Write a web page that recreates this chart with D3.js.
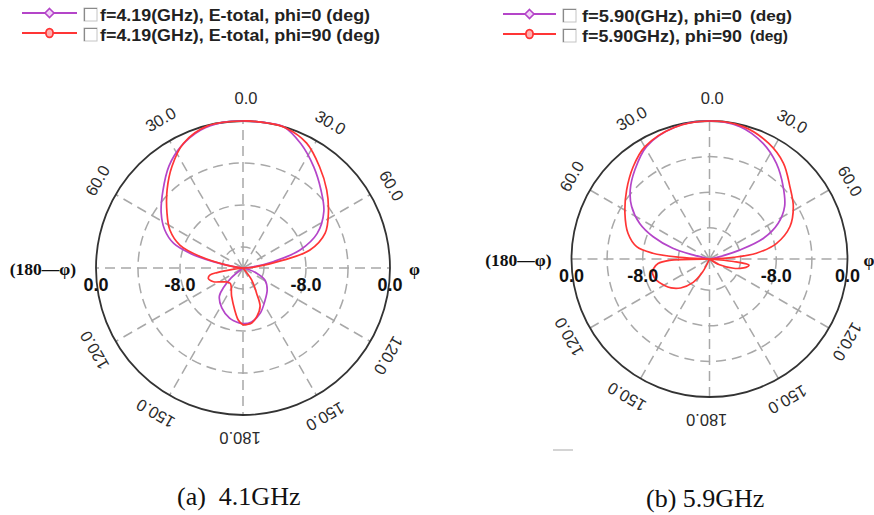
<!DOCTYPE html>
<html>
<head>
<meta charset="utf-8">
<script src="https://cdn.jsdelivr.net/npm/d3@7"></script>
<style>
  html, body { margin: 0; padding: 0; background: #ffffff; }
  svg { display: block; }
</style>
</head>
<body>
<svg id="chart" width="874" height="515"></svg>
<script>
// ---------- data ----------
// Angular tick marks (theta, degrees) and their printed labels
const angleTicks = [0, 30, 60, 120, 150, 180, -30, -60, -120, -150];
const angleTickLabels = ["0.0", "30.0", "60.0", "120.0", "150.0", "180.0", "30.0", "60.0", "120.0", "150.0"];
// Dashed radial rings (dB) and the printed radial labels
const ringTicks = [-4, -8, -12];
const radialLabelValues = [0, -8];
const radialLabelText = ["0.0", "-8.0"];

// (a) 4.19 GHz, phi = 0 deg : theta (deg) and normalised gain (dB)
const theta419phi0 = [-180, -170, -165, -152, -140, -135, -130, -125, -115, -100, -90, -84, -82, -78, -74.5, -70.5, -64, -56, -46, -36, -27, -17, -8, 0, 8, 16, 25, 35, 45, 55, 65, 72.5, 78, 83, 86, 90, 100, 104, 111, 119, 132, 147, 159, 171];
const gain419phi0  = [-8.7, -8.9, -9.05, -9.7, -10.5, -11.4, -12.5, -14.5, -20, -20, -18, -13.8, -13.1, -11.1, -8.8, -7.0, -5.7, -4.6, -3.4, -2.0, -1.0, -0.25, 0, 0, 0, 0, -0.95, -2.25, -3.5, -4.6, -6.2, -8.3, -11.0, -13.0, -14.2, -18, -16, -13.5, -12.6, -11.6, -10.9, -10.2, -9.4, -8.8];

// (a) 4.19 GHz, phi = 90 deg
const theta419phi90 = [-180, -175, -169, -158, -140, -125, -115, -107, -102, -100, -98, -95, -90, -85, -80, -75, -70, -62.5, -54, -44, -35, -25.6, -14, 0, 10, 17, 27, 37, 47, 57, 67, 75, 79, 84.5, 88, 95, 120, 135, 144, 151.6, 156, 164, 171, 176];
const gain419phi90  = [-8.6, -9.0, -9.9, -11.1, -12.1, -11.7, -10.9, -10.55, -10.8, -11.5, -13, -15, -16, -14, -12.4, -9.8, -7.6, -6.15, -5.05, -3.6, -2.2, -0.85, -0.05, 0, 0, -0.05, -0.65, -1.9, -3.1, -4.3, -5.5, -7.4, -10.1, -12.7, -14.5, -18, -20, -15, -12.6, -11.3, -10.0, -9.2, -8.7, -8.6];

// (b) 5.90 GHz, phi = 0 deg
const theta590phi0 = [-180, -135, -90, -80, -76, -73.6, -68.4, -63, -56, -49, -40, -29, -15, 0, 13, 25, 35, 45.5, 55, 62.5, 69, 73.5, 77.5, 82, 90, 135];
const gain590phi0  = [-25, -25, -25, -16.5, -13.6, -11.2, -8.7, -6.7, -4.95, -3.7, -2.45, -1.0, -0.2, 0, -0.25, -1.2, -2.4, -3.9, -5.2, -6.8, -9.0, -11.9, -14.3, -18, -25, -25];

// (b) 5.90 GHz, phi = 90 deg
const theta590phi90 = [-180, -160, -152, -145, -135, -127, -120, -112, -105, -100, -95, -92, -90, -88, -86.7, -84.2, -80.4, -72.5, -61.6, -50.3, -39.6, -30, -15, 0, 14, 27, 37.6, 48, 58, 68, 77, 83, 86, 89, 92, 96, 99, 103, 107, 111, 120, 130, 155];
const gain590phi90  = [-25, -17, -13.8, -12.3, -10.9, -10.1, -9.6, -9.1, -8.9, -9.1, -9.7, -11, -17, -15, -12.2, -9.1, -7.2, -5.9, -4.7, -3.4, -2.05, -0.95, -0.2, 0, -0.15, -0.9, -1.9, -3.35, -4.4, -5.75, -7.8, -10.2, -12.8, -16, -16, -12.8, -11, -11.3, -11.9, -12.6, -14.2, -20, -25];

// Legend entries and captions
const legendLeft  = ["f=4.19(GHz), E-total, phi=0 (deg)", "f=4.19(GHz), E-total, phi=90 (deg)"];
const legendRight = ["f=5.90(GHz), phi=0", "f=5.90GHz), phi=90"];
const legendRightUnit = "(deg)";
const captions = ["(a)  4.1GHz", "(b) 5.9GHz"];

// ---------- drawing ----------
const svg = d3.select("#chart");
const PURPLE = "#b445c9";
const RED = "#ff3535";
const SANS = "'Liberation Sans', Arial, sans-serif";
const SERIF = "'Liberation Serif', 'Times New Roman', serif";
const rad = d => d * Math.PI / 180;

function series(thetas, gains) {
  return thetas.map((t, i) => ({ t, g: gains[i] }));
}

function polarPlot(cfg) {
  const g = svg.append("g").attr("transform", `translate(${cfg.cx},${cfg.cy})`);
  const r = d3.scaleLinear().domain([cfg.min, 0]).range([0, cfg.R]).clamp(true);

  // dashed rings
  g.selectAll("circle.ring").data(ringTicks).join("circle")
    .attr("class", "ring").attr("r", d => r(d))
    .attr("fill", "none").attr("stroke", "#a8a8a8")
    .attr("stroke-width", 1.5).attr("stroke-dasharray", "10,6");

  // dashed spokes every 30 degrees
  g.selectAll("line.spoke").data(d3.range(0, 360, 30)).join("line")
    .attr("class", "spoke")
    .attr("x1", 0).attr("y1", 0)
    .attr("x2", d => r(0) * Math.sin(rad(d)))
    .attr("y2", d => -r(0) * Math.cos(rad(d)))
    .attr("stroke", "#a8a8a8").attr("stroke-width", 1.5)
    .attr("stroke-dasharray", "10,6");

  // outer boundary
  g.append("circle").attr("r", r(0))
    .attr("fill", "none").attr("stroke", "#333").attr("stroke-width", 1.8);

  // pattern traces
  const line = d3.lineRadial()
    .angle(d => rad(d.t))
    .radius(d => r(d.g))
    .curve(d3.curveCatmullRomClosed.alpha(0.5));
  cfg.traces.forEach(tr => {
    g.append("path").datum(tr.data)
      .attr("d", line)
      .attr("fill", "none").attr("stroke", tr.color)
      .attr("stroke-width", 1.7).attr("stroke-linejoin", "round");
  });

  // angular labels, rotated tangentially
  angleTicks.forEach((a, i) => {
    const rr = r(0) + 23;
    g.append("text")
      .attr("transform", `translate(${rr * Math.sin(rad(a + 1))},${-rr * Math.cos(rad(a + 1))}) rotate(${a})`)
      .attr("text-anchor", "middle").attr("dominant-baseline", "central")
      .attr("font-family", SANS)
      .attr("font-size", 16.5).attr("fill", "#2b2b2b")
      .text(angleTickLabels[i]);
  });

  // radial labels on both sides of the horizontal axis
  radialLabelValues.forEach((v, i) => {
    [-1, 1].forEach(s => {
      g.append("text")
        .attr("x", s * r(v)).attr("y", 17)
        .attr("text-anchor", "middle").attr("dominant-baseline", "central")
        .attr("font-family", SANS)
        .attr("font-weight", "bold").attr("font-size", 18).attr("fill", "#111")
        .text(radialLabelText[i]);
    });
  });

  // axis direction markers
  g.append("text")
    .attr("x", -r(0) - 20).attr("y", 1)
    .attr("text-anchor", "end").attr("dominant-baseline", "central")
    .attr("font-family", SERIF)
    .attr("font-weight", "bold").attr("font-size", 17.5).attr("fill", "#111")
    .text("(180\u2014\u03c6)");
  g.append("text")
    .attr("x", r(0) + cfg.phiGap).attr("y", 1)
    .attr("text-anchor", "start").attr("dominant-baseline", "central")
    .attr("font-family", SERIF)
    .attr("font-weight", "bold").attr("font-size", 17.5).attr("fill", "#111")
    .text("\u03c6");
}

polarPlot({
  cx: 243, cy: 268, R: 147, min: -14, phiGap: 19,
  traces: [
    { data: series(theta419phi0, gain419phi0), color: PURPLE },
    { data: series(theta419phi90, gain419phi90), color: RED }
  ]
});
polarPlot({
  cx: 709.5, cy: 259, R: 138, min: -15.5, phiGap: 16,
  traces: [
    { data: series(theta590phi0, gain590phi0), color: PURPLE },
    { data: series(theta590phi90, gain590phi90), color: RED }
  ]
});

// ---------- legends ----------
function legendRow(o) {
  const g = svg.append("g");
  const y = o.y;
  g.append("line").attr("x1", o.x0).attr("x2", o.x1).attr("y1", y).attr("y2", y)
    .attr("stroke", o.color).attr("stroke-width", 1.8);
  const mx = (o.x0 + o.x1) / 2;
  if (o.marker === "diamond") {
    g.append("path")
      .attr("d", `M${mx},${y - 4.5}L${mx + 4.5},${y}L${mx},${y + 4.5}L${mx - 4.5},${y}Z`)
      .attr("fill", "#f3d6f7").attr("stroke", o.color).attr("stroke-width", 1.6);
  } else {
    g.append("ellipse").attr("cx", mx).attr("cy", y).attr("rx", 3.6).attr("ry", 4.4)
      .attr("fill", "#ffb0b0").attr("stroke", o.color).attr("stroke-width", 1.8);
  }
  // checkbox
  g.append("rect").attr("x", o.boxX).attr("y", y - 5).attr("width", 13).attr("height", 13)
    .attr("fill", "#fff").attr("stroke", "#c4c4c4").attr("stroke-width", 1);
  g.append("path").attr("d", `M${o.boxX + 0.5},${y + 8}V${y - 4.5}H${o.boxX + 13}`)
    .attr("fill", "none").attr("stroke", "#8a8a8a").attr("stroke-width", 1.2);
  g.append("text").attr("x", o.textX).attr("y", y + 2.5)
    .attr("dominant-baseline", "central")
    .attr("font-family", SANS)
    .attr("font-weight", "bold").attr("font-size", 16).attr("fill", "#222")
    .attr("textLength", o.width).attr("lengthAdjust", "spacingAndGlyphs")
    .text(o.label);
  if (o.unit) {
    g.append("text").attr("x", o.unitX).attr("y", y + 1.5)
      .attr("dominant-baseline", "central")
      .attr("font-family", SANS)
      .attr("font-weight", "bold").attr("font-size", 14.5).attr("fill", "#222")
      .attr("textLength", o.unitW).attr("lengthAdjust", "spacingAndGlyphs")
      .text(o.unit);
  }
}

legendRow({ x0: 22, x1: 77, y: 13, color: PURPLE, marker: "diamond", boxX: 84, textX: 100, label: legendLeft[0], width: 270 });
legendRow({ x0: 22, x1: 77, y: 33, color: RED, marker: "circle", boxX: 84, textX: 100, label: legendLeft[1], width: 280 });
legendRow({ x0: 503, x1: 556, y: 14, color: PURPLE, marker: "diamond", boxX: 563, textX: 582, label: legendRight[0], width: 160, unit: legendRightUnit, unitX: 750, unitW: 42 });
legendRow({ x0: 503, x1: 556, y: 34, color: RED, marker: "circle", boxX: 563, textX: 582, label: legendRight[1], width: 160, unit: legendRightUnit, unitX: 750, unitW: 38 });

// faint stroke below the right-hand plot
svg.append("line").attr("x1", 553).attr("x2", 573).attr("y1", 450).attr("y2", 450)
  .attr("stroke", "#d4d4d4").attr("stroke-width", 2);

// ---------- captions ----------
svg.append("text").attr("x", 177).attr("y", 505)
  .attr("font-family", SERIF)
  .attr("font-size", 26).attr("fill", "#111")
  .style("white-space", "pre").text(captions[0]);
svg.append("text").attr("x", 646).attr("y", 507)
  .attr("font-family", SERIF)
  .attr("font-size", 26).attr("fill", "#111")
  .text(captions[1]);
</script>
</body>
</html>
